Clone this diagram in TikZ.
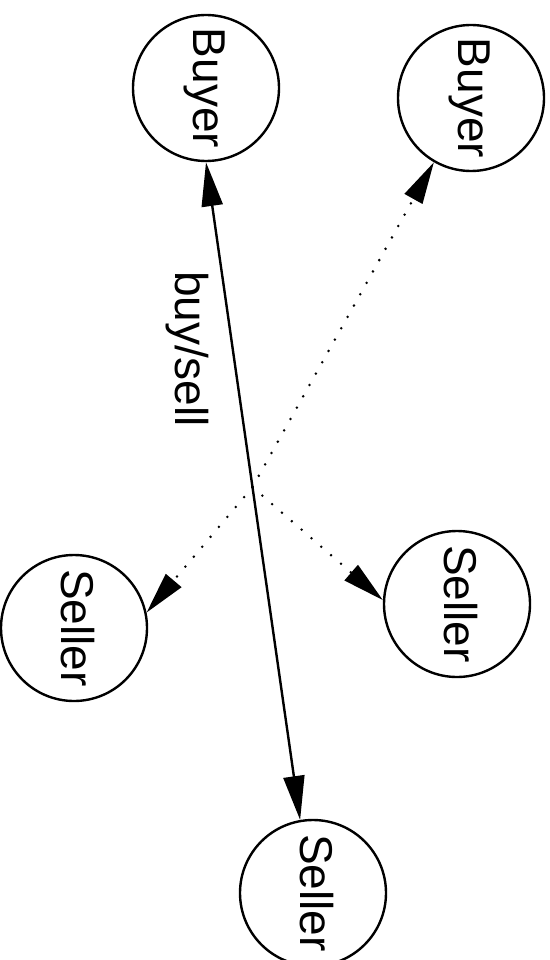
\documentclass[tikz,border=0pt]{standalone}
\usepackage{fontspec}
\setmainfont{Liberation Sans}
\usepackage{graphicx}
\usetikzlibrary{arrows.meta}
% text turned a quarter turn clockwise, with a fixed height and depth
\newcommand{\sidetext}[1]{\rotatebox{-90}{\raisebox{0pt}[0.8em][0.26em]{#1}}}
\begin{document}
\begin{tikzpicture}[x=1pt,y=-1pt,
  party/.style={circle, draw, line width=2.4pt, minimum size=146pt, inner sep=0pt,
    font=\fontsize{46}{55}\selectfont},
  tag/.style={inner sep=0pt, font=\fontsize{46}{55}\selectfont},
  trade/.style={line width=2.4pt,
    {Triangle[length=44pt,width=21pt]}-{Triangle[length=44pt,width=21pt]}},
  offer/.style={line width=2.8pt, line cap=round, dash pattern=on 0pt off 13pt,
    -{Triangle[length=42pt,width=20pt]}}]
\useasboundingbox (0,0) rectangle (549,960);

% market participants
\node[party] (buyerL)  at (206,88)  {\sidetext{Buyer}};
\node[party] (buyerR)  at (471,98)  {\sidetext{Buyer}};
\node[party] (sellerL) at (74,628)  {\sidetext{Seller}};
\node[party] (sellerR) at (457,604) {\sidetext{Seller}};
\node[party] (sellerB) at (313,893) {\sidetext{Seller}};

% the actual trade
\draw[trade] (buyerL.270) -- coordinate[pos=0.494] (hub) (sellerB.100);
\node[tag] (deal) at (188,349) {\sidetext{buy/sell}};

% other possible partners
\draw[offer] (hub) -- (buyerR.240);
\draw[offer] (hub) -- (sellerL.12);
\draw[offer] (hub) -- (sellerR.177);
\end{tikzpicture}
\end{document}
